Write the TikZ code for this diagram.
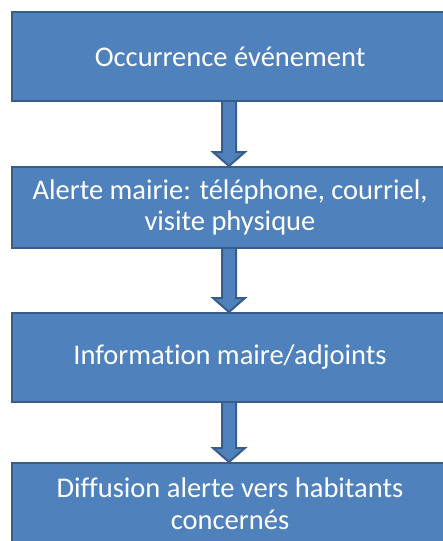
\documentclass[tikz,border=0pt]{standalone}
\usepackage{fontspec}
\setmainfont{Carlito}[Ligatures=NoCommon]
\usetikzlibrary{calc}
\definecolor{boxfill}{HTML}{4F81BD}
\definecolor{boxline}{HTML}{385D8A}
\tikzset{
  flowbox/.style={draw=boxline, fill=boxfill, line width=2pt, minimum width=436pt,
    inner sep=0pt, text=white, align=center, font=\fontsize{28.5}{31.5}\selectfont},
  blockarrow/.style={draw=boxline, fill=boxfill, line width=2pt, line join=miter}
}
\begin{document}
\begin{tikzpicture}[x=1pt,y=-1pt]
\useasboundingbox (0,0) rectangle (443,541);
\node[flowbox, minimum height=89pt] (b1) at (230,56.5) {Occurrence événement};
\node[flowbox, minimum height=81pt] (b2) at (230,207.5) {Alerte mairie: téléphone, courriel,\\visite physique};
\node[flowbox, minimum height=89pt] (b3) at (230,357.5) {Information maire/adjoints};
\node[flowbox, minimum height=81pt] (b4) at (230,503.5) {Diffusion alerte vers habitants\\concernés};
\foreach \a/\b in {b1/b2, b2/b3, b3/b4} {
  \draw[blockarrow]
    ($(\a.south)+(-8,0)$) -- ($(\b.north)+(-8,-14)$) -- ($(\b.north)+(-17,-14)$)
    -- ($(\b.north)+(-1,0)$) -- ($(\b.north)+(15,-14)$) -- ($(\b.north)+(6,-14)$)
    -- ($(\a.south)+(6,0)$);
}
\end{tikzpicture}
\end{document}
